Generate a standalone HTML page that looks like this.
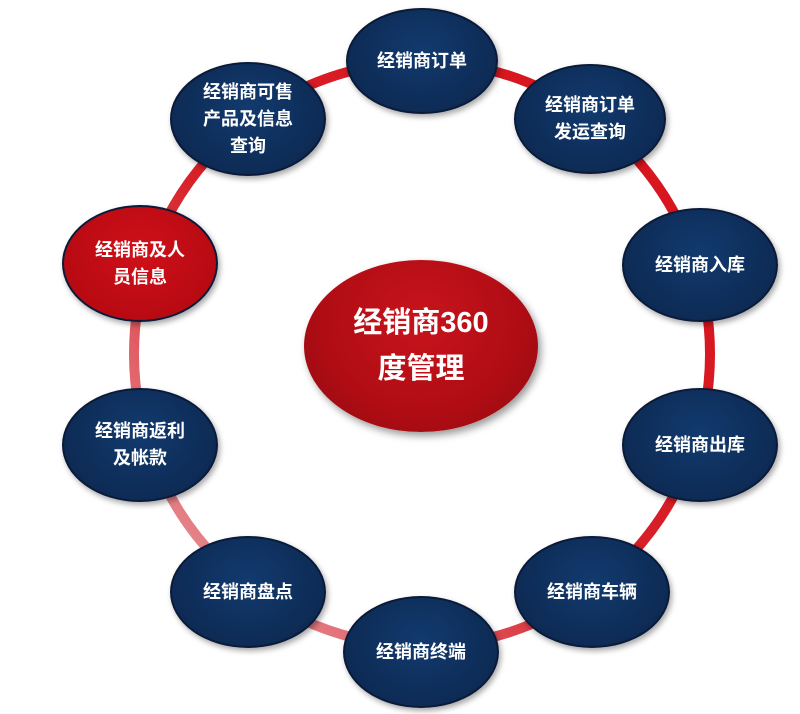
<!DOCTYPE html>
<html><head><meta charset="utf-8"><style>
body{margin:0;width:800px;height:714px;background:#fff;overflow:hidden;position:relative;font-family:"Liberation Sans","Noto Sans CJK SC",sans-serif}
.n{position:absolute;border-radius:50%;background:radial-gradient(ellipse at 50% 40%,#123a6e 0%,#0d2b55 70%,#0a2148 100%);border:2px solid #0a1a38;color:#fff;font-weight:bold;font-size:18px;line-height:27px;display:flex;align-items:center;justify-content:center;text-align:center;box-shadow:2px 3px 6px rgba(0,0,0,.35);box-sizing:border-box}
.r{background:radial-gradient(ellipse at 50% 40%,#d0101a 0%,#b80a12 70%,#a0080f 100%)}
</style></head><body>
<svg width="800" height="714" style="position:absolute;left:0;top:0">
<defs><linearGradient id="g" x1="1" y1="0" x2="0" y2="1">
<stop offset="0" stop-color="#d8121c"/><stop offset="0.55" stop-color="#d82028"/><stop offset="1" stop-color="#eab0b4"/></linearGradient></defs>
<ellipse cx="422" cy="354" rx="288" ry="292" fill="none" stroke="url(#g)" stroke-width="10"/>
</svg>
<div class="n" style="left:346px;top:8px;width:152px;height:106px">经销商订单</div>
<div class="n" style="left:514px;top:64px;width:152px;height:110px">经销商订单<br>发运查询</div>
<div class="n" style="left:622px;top:208px;width:156px;height:114px">经销商入库</div>
<div class="n" style="left:622px;top:388px;width:156px;height:114px">经销商出库</div>
<div class="n" style="left:514px;top:536px;width:156px;height:112px">经销商车辆</div>
<div class="n" style="left:343px;top:596px;width:156px;height:112px">经销商终端</div>
<div class="n" style="left:170px;top:536px;width:156px;height:112px">经销商盘点</div>
<div class="n" style="left:62px;top:388px;width:156px;height:114px">经销商返利<br>及帐款</div>
<div class="n r" style="left:62px;top:205px;width:156px;height:117px">经销商及人<br>员信息</div>
<div class="n" style="left:170px;top:62px;width:156px;height:114px">经销商可售<br>产品及信息<br>查询</div>
<div class="n r" style="left:304px;top:260px;width:234px;height:172px;font-size:29px;line-height:46px;border:none;background:radial-gradient(ellipse at 50% 35%,#c8141c 0%,#b00c14 60%,#8c0a10 100%);box-shadow:3px 4px 8px rgba(0,0,0,.4)">经销商360<br>度管理</div>
</body></html>
